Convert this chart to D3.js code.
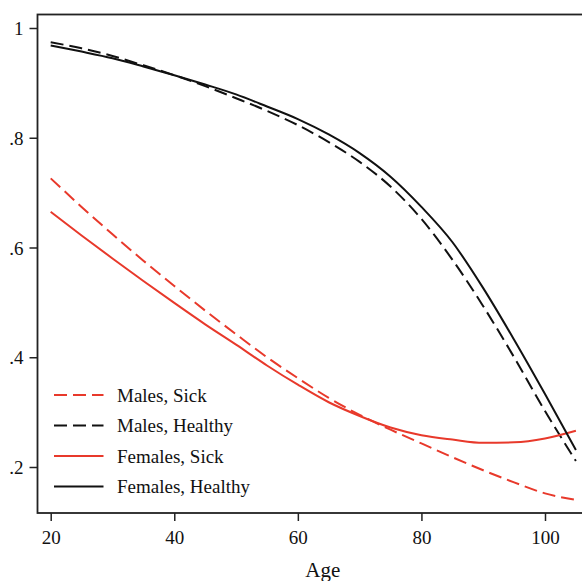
<!DOCTYPE html>
<html>
<head>
<meta charset="utf-8">
<script src="https://cdn.jsdelivr.net/npm/d3@7"></script>
<style>
  html, body { margin: 0; padding: 0; background: #fff; }
  svg { display: block; }
  text { font-family: "Liberation Serif", "DejaVu Serif", serif; fill: #111; }
</style>
</head>
<body>
<svg id="chart" width="582" height="581"></svg>
<script>
const ages = [20, 25, 30, 35, 40, 45, 50, 55, 60, 65, 70, 75, 80, 85, 90, 95, 100, 105];
const malesSick = [0.726, 0.674, 0.624, 0.576, 0.530, 0.485, 0.442, 0.400, 0.362, 0.326, 0.295, 0.268, 0.243, 0.218, 0.194, 0.172, 0.152, 0.140];
const malesHealthy = [0.974, 0.963, 0.949, 0.932, 0.914, 0.894, 0.872, 0.849, 0.823, 0.792, 0.756, 0.711, 0.652, 0.578, 0.493, 0.400, 0.302, 0.211];
const femalesSick = [0.665, 0.622, 0.580, 0.539, 0.499, 0.460, 0.423, 0.385, 0.350, 0.318, 0.293, 0.272, 0.258, 0.250, 0.244, 0.245, 0.252, 0.266];
const femalesHealthy = [0.968, 0.957, 0.945, 0.930, 0.914, 0.897, 0.879, 0.857, 0.834, 0.806, 0.772, 0.729, 0.674, 0.610, 0.526, 0.432, 0.333, 0.231];
const xTicks = [20, 40, 60, 80, 100];
const yTicks = [0.2, 0.4, 0.6, 0.8, 1];
const yTickLabels = [".2", ".4", ".6", ".8", "1"];
const seriesNames = ["Males, Sick", "Males, Healthy", "Females, Sick", "Females, Healthy"];

const RED = "#e8392b", BLACK = "#111";
const series = [
  { name: seriesNames[0], values: malesSick, color: RED, dash: "13,6" },
  { name: seriesNames[1], values: malesHealthy, color: BLACK, dash: "13,6" },
  { name: seriesNames[2], values: femalesSick, color: RED, dash: null },
  { name: seriesNames[3], values: femalesHealthy, color: BLACK, dash: null }
];

const svg = d3.select("#chart");
const frame = { left: 37.5, top: 14.5, right: 585, bottom: 513 };

const x = d3.scaleLinear().domain([20, 100]).range([50.7, 545]);
const y = d3.scaleLinear().domain([0.2, 1]).range([467, 28]);

// frame
svg.append("rect")
  .attr("x", frame.left).attr("y", frame.top)
  .attr("width", frame.right - frame.left).attr("height", frame.bottom - frame.top)
  .attr("fill", "none").attr("stroke", "#222").attr("stroke-width", 1.8);

// y axis ticks
const yAxis = d3.axisLeft(y).tickValues(yTicks).tickSize(8).tickPadding(6)
  .tickFormat((d, i) => yTickLabels[i]);
const gy = svg.append("g").attr("transform", `translate(${frame.left},0)`).call(yAxis);
gy.select(".domain").remove();
gy.selectAll(".tick line").attr("stroke", "#222").attr("stroke-width", 1.5);
gy.selectAll(".tick text").attr("font-size", 19).attr("font-family", "Liberation Serif").attr("fill", "#111").attr("x", -14).attr("dy", "0.35em");

// x axis ticks
const xAxis = d3.axisBottom(x).tickValues(xTicks).tickSize(8).tickPadding(10);
const gx = svg.append("g").attr("transform", `translate(0,${frame.bottom})`).call(xAxis);
gx.select(".domain").remove();
gx.selectAll(".tick line").attr("stroke", "#222").attr("stroke-width", 1.5);
gx.selectAll(".tick text").attr("font-size", 19).attr("font-family", "Liberation Serif").attr("fill", "#111");

svg.append("text").attr("x", (x(20) + x(100)) / 2 + 25).attr("y", 577)
  .attr("text-anchor", "middle").attr("font-size", 21).text("Age");

// lines
const clip = svg.append("clipPath").attr("id", "clip").append("rect")
  .attr("x", frame.left).attr("y", frame.top)
  .attr("width", frame.right - frame.left).attr("height", frame.bottom - frame.top);

const line = d3.line().x((d, i) => x(ages[i])).y(d => y(d)).curve(d3.curveMonotoneX);
const gl = svg.append("g").attr("clip-path", "url(#clip)");
series.forEach(s => {
  gl.append("path").attr("d", line(s.values))
    .attr("fill", "none").attr("stroke", s.color).attr("stroke-width", 2)
    .attr("stroke-dasharray", s.dash);
});

// legend
const legend = svg.append("g");
series.forEach((s, i) => {
  const ly = 395 + i * 30.5;
  legend.append("line").attr("x1", 54).attr("x2", 103.5).attr("y1", ly).attr("y2", ly)
    .attr("stroke", s.color).attr("stroke-width", 2).attr("stroke-dasharray", s.dash);
  legend.append("text").attr("x", 117).attr("y", ly).attr("dy", "0.35em")
    .attr("font-size", 19).text(s.name);
});
</script>
</body>
</html>
